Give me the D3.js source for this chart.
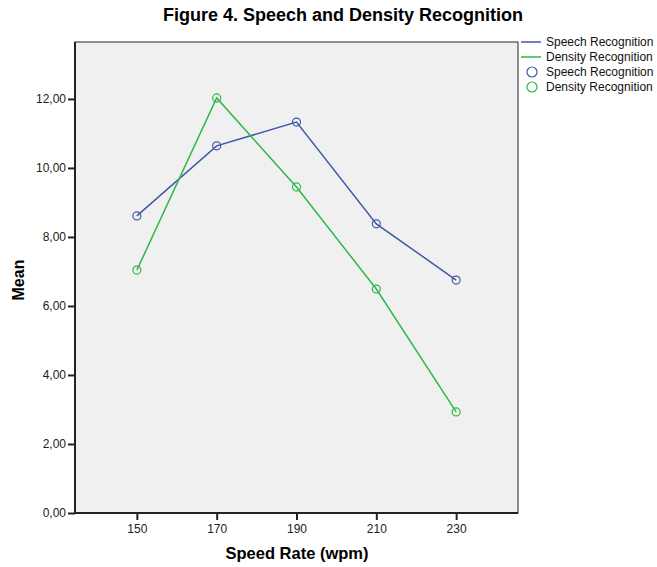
<!DOCTYPE html>
<html>
<head>
<meta charset="utf-8">
<script src="https://cdn.jsdelivr.net/npm/d3@7"></script>
<style>
  body { margin: 0; background: #fff; }
  text { font-family: "Liberation Sans", Arial, sans-serif; }
</style>
</head>
<body>
<svg width="657" height="567"></svg>
<script>
var speedRates = [150, 170, 190, 210, 230];
var speechMeans = [8.61, 10.64, 11.33, 8.38, 6.75];
var densityMeans = [7.04, 12.03, 9.45, 6.49, 2.93];
var yTicks = [0, 2, 4, 6, 8, 10, 12];
var seriesNames = ["Speech Recognition", "Density Recognition"];
var seriesColors = ["#3e58ac", "#2eb848"];

var svg = d3.select("svg");
var plotL = 75, plotR = 518, plotT = 42, plotB = 513;

var x = d3.scaleLinear().domain([134.5, 245.5]).range([plotL, plotR]);
var y = d3.scaleLinear().domain([0, 13.65]).range([plotB, plotT]);

// plot background
svg.append("rect")
    .attr("x", plotL).attr("y", plotT)
    .attr("width", plotR - plotL).attr("height", plotB - plotT)
    .attr("fill", "#f0f0f0")
    .attr("stroke", "#222").attr("stroke-width", 1);

// axes
var yAxis = svg.append("g").attr("transform", "translate(" + plotL + ",0)")
    .call(d3.axisLeft(y).tickValues(yTicks).tickSize(7).tickPadding(2)
        .tickFormat(function(d) { return d3.format(".2f")(d).replace(".", ","); }));
var xAxis = svg.append("g").attr("transform", "translate(0," + plotB + ")")
    .call(d3.axisBottom(x).tickValues(speedRates).tickSize(7).tickPadding(4));

[yAxis, xAxis].forEach(function(a) {
  a.select(".domain").attr("stroke", "#222").attr("stroke-width", 2);
  a.selectAll(".tick line").attr("stroke", "#222").attr("stroke-width", 2);
  a.selectAll(".tick text").attr("fill", "#222").style("font-size", "12px")
      .style("font-family", "'Liberation Sans', Arial, sans-serif");
});
xAxis.select(".domain").attr("d", "M" + plotL + ",0H" + plotR);
yAxis.select(".domain").attr("d", "M0," + plotT + "V" + plotB);

var line = d3.line()
    .x(function(d, i) { return x(speedRates[i]); })
    .y(function(d) { return y(d); });

[speechMeans, densityMeans].forEach(function(vals, k) {
  svg.append("path")
      .datum(vals)
      .attr("d", line)
      .attr("fill", "none")
      .attr("stroke", seriesColors[k])
      .attr("stroke-width", 1.5);
  svg.selectAll(".pt" + k)
    .data(vals)
    .enter().append("circle")
      .attr("class", "pt" + k)
      .attr("cx", function(d, i) { return x(speedRates[i]); })
      .attr("cy", function(d) { return y(d); })
      .attr("r", 4)
      .attr("fill", "none")
      .attr("stroke", seriesColors[k])
      .attr("stroke-width", 1.2);
});

// title
svg.append("text")
    .attr("x", 343).attr("y", 21)
    .attr("text-anchor", "middle")
    .style("font-size", "18px").style("font-weight", "bold")
    .text("Figure 4. Speech and Density Recognition");

// axis titles
svg.append("text")
    .attr("x", 297).attr("y", 559)
    .attr("text-anchor", "middle")
    .style("font-size", "16.5px").style("font-weight", "bold")
    .text("Speed Rate (wpm)");
svg.append("text")
    .attr("transform", "translate(24," + 280 + ") rotate(-90)")
    .attr("text-anchor", "middle")
    .style("font-size", "16px").style("font-weight", "bold")
    .text("Mean");

// legend
var lg = svg.append("g").attr("transform", "translate(521,0)");
seriesNames.forEach(function(name, k) {
  var ly = 42 + k * 15;
  lg.append("line").attr("x1", 0).attr("x2", 20).attr("y1", ly).attr("y2", ly)
      .attr("stroke", seriesColors[k]).attr("stroke-width", 1.5);
  lg.append("text").attr("x", 25).attr("y", ly + 4)
      .style("font-size", "12px").attr("fill", "#111").text(name);
  var cy = 72 + k * 15;
  lg.append("circle").attr("cx", 11).attr("cy", cy).attr("r", 5)
      .attr("fill", "none").attr("stroke", seriesColors[k]).attr("stroke-width", 1.2);
  lg.append("text").attr("x", 25).attr("y", cy + 4)
      .style("font-size", "12px").attr("fill", "#111").text(name);
});
</script>
</body>
</html>
